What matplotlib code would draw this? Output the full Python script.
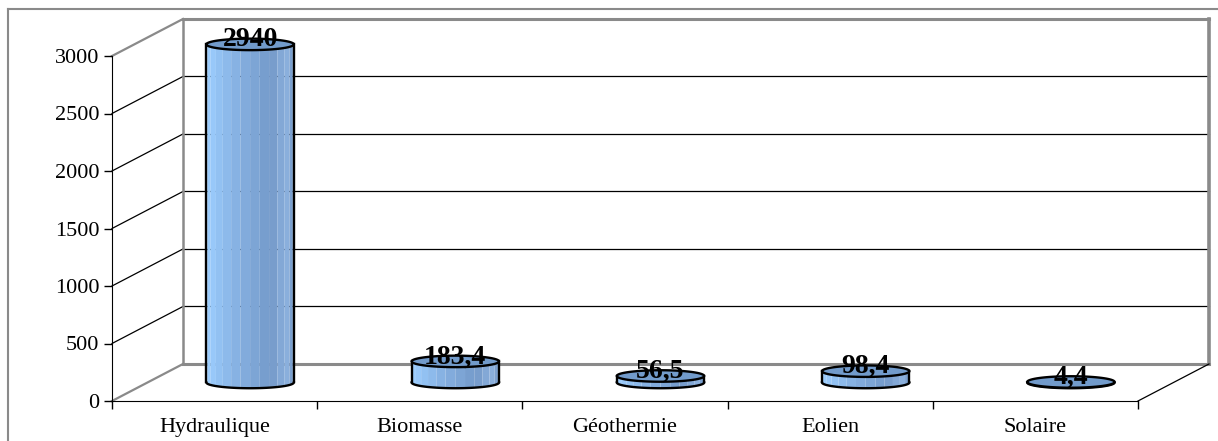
import numpy as np
import matplotlib
matplotlib.use('Agg')
import matplotlib.pyplot as plt
from matplotlib.colors import LinearSegmentedColormap
from matplotlib.lines import Line2D

# Production by source
categories = ['Hydraulique', 'Biomasse', 'Géothermie', 'Eolien', 'Solaire']
values = [2940, 183.4, 56.5, 98.4, 4.4]
value_labels = ['2940', '183,4', '56,5', '98,4', '4,4']
y_ticks = [0, 500, 1000, 1500, 2000, 2500, 3000]

SERIF = 'Liberation Serif'
DX, DY = 0.346, 322      # depth of the 3D box, in data units
RADIUS = 0.213           # cylinder half width
ELL = 50                 # half height of the cylinder ellipses

fig = plt.figure(figsize=(12.18, 4.41), dpi=100)
ax = fig.add_axes([112 / 1218, 40 / 441, 1026 / 1218, 345 / 441])
ax.set_xlim(-0.5, len(categories) - 0.5)
ax.set_ylim(0, 3000)
ax.patch.set_visible(False)
for s in ['top', 'right']:
    ax.spines[s].set_visible(False)
ax.spines['left'].set_color('black')
ax.spines['bottom'].set_color('black')

x0, x1 = -0.5, len(categories) - 0.5
gray = '#8a8a8a'

# left wall + back wall gridlines
for v in y_ticks:
    edge = v in (0, 3000)
    ax.plot([x0, x0 + DX], [v, v + DY], color=gray if edge else 'black',
            lw=1.6 if edge else 0.9, clip_on=False, zorder=1)
    ax.plot([x0 + DX, x1 + DX], [v + DY, v + DY], color=gray if edge else 'black',
            lw=2.2 if edge else 0.9, clip_on=False, zorder=1)
ax.plot([x0 + DX, x0 + DX], [DY, 3000 + DY], color=gray, lw=1.8, clip_on=False, zorder=1)
ax.plot([x1 + DX, x1 + DX], [DY, 3000 + DY], color=gray, lw=2.6, clip_on=False, zorder=1)
# floor right edge
ax.plot([x1, x1 + DX], [0, DY], color='black', lw=0.9, clip_on=False, zorder=1)

body_cmap = LinearSegmentedColormap.from_list(
    'body', ['#9ED0FF', '#97C7F8', '#8BB7E8', '#7FA8D9', '#7499C9', '#8DB2DE', '#6C92C2'])


def draw_cylinder(cx, base, top, z):
    n = 14
    th = np.linspace(0, np.pi, n + 1)
    for k in range(n):
        t = np.linspace(th[k], th[k + 1], 6)
        xs = cx - RADIUS * np.cos(t)
        ytop = top - ELL * np.sin(t)
        ybot = base - ELL * np.sin(t)
        ax.fill(np.r_[xs, xs[::-1]], np.r_[ytop, ybot[::-1]],
                color=body_cmap(k / (n - 1)), lw=0, clip_on=False, zorder=z)
    t = np.linspace(0, np.pi, 60)
    # outline of the body
    ax.plot(cx - RADIUS * np.cos(t), base - ELL * np.sin(t), color='black', lw=1.7,
            clip_on=False, zorder=z + 0.1)
    ax.plot([cx - RADIUS, cx - RADIUS], [base, top], color='black', lw=1.7,
            clip_on=False, zorder=z + 0.1)
    ax.plot([cx + RADIUS, cx + RADIUS], [base, top], color='black', lw=1.7,
            clip_on=False, zorder=z + 0.1)
    # top cap
    t = np.linspace(0, 2 * np.pi, 80)
    ax.fill(cx + RADIUS * np.cos(t), top + ELL * np.sin(t), facecolor='#729BCB',
            edgecolor='black', lw=1.7, clip_on=False, zorder=z + 0.2)


for i, (v, lab) in enumerate(zip(values, value_labels)):
    cx = i + DX / 2
    base = DY / 2
    top = v + DY / 2
    draw_cylinder(cx, base, top, 3 + i)
    ax.text(cx, top + 40, lab, ha='center', va='center', fontsize=20,
            fontweight='bold', family=SERIF, zorder=10, clip_on=False)

ax.set_yticks(y_ticks)
ax.set_yticklabels([str(t) for t in y_ticks], family=SERIF, fontsize=16)
ax.tick_params(axis='y', direction='out', length=6, width=1, pad=3)

ax.set_xticks(range(len(categories)))
ax.set_xticklabels(categories, family=SERIF, fontsize=16)
ax.tick_params(axis='x', which='major', length=0, pad=12)
ax.set_xticks(np.arange(-0.5, len(categories)), minor=True)
ax.tick_params(axis='x', which='minor', direction='out', length=6, width=1)

# chart area border
fig.add_artist(Line2D([8 / 1218, 8 / 1218], [0, 1 - 9 / 441], color=gray, lw=1.5))
fig.add_artist(Line2D([8 / 1218, 1], [1 - 9 / 441, 1 - 9 / 441], color=gray, lw=1.5))

fig.savefig('out.png', dpi=100)
